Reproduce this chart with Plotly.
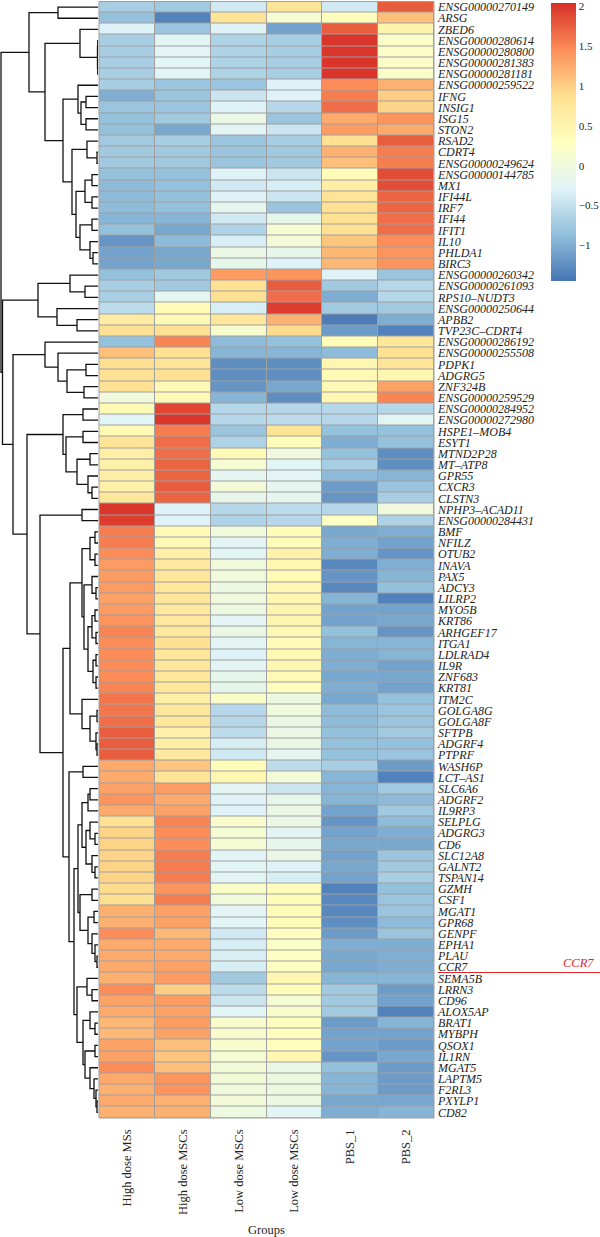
import plotly.graph_objects as go

W, H = 600, 1237

genes = ["ENSG00000270149", "ARSG", "ZBED6", "ENSG00000280614", "ENSG00000280800",
         "ENSG00000281383", "ENSG00000281181", "ENSG00000259522", "IFNG", "INSIG1",
         "ISG15", "STON2", "RSAD2", "CDRT4", "ENSG00000249624", "ENSG00000144785",
         "MX1", "IFI44L", "IRF7", "IFI44", "IFIT1", "IL10", "PHLDA1", "BIRC3",
         "ENSG00000260342", "ENSG00000261093", "RPS10–NUDT3", "ENSG00000250644", "APBB2",
         "TVP23C–CDRT4", "ENSG00000286192", "ENSG00000255508", "PDPK1", "ADGRG5",
         "ZNF324B", "ENSG00000259529", "ENSG00000284952", "ENSG00000272980", "HSPE1–MOB4",
         "ESYT1", "MTND2P28", "MT–ATP8", "GPR55", "CXCR3", "CLSTN3", "NPHP3–ACAD11",
         "ENSG00000284431", "BMF", "NFILZ", "OTUB2", "INAVA", "PAX5", "ADCY3", "LILRP2",
         "MYO5B", "KRT86", "ARHGEF17", "ITGA1", "LDLRAD4", "IL9R", "ZNF683", "KRT81",
         "ITM2C", "GOLGA8G", "GOLGA8F", "SFTPB", "ADGRF4", "PTPRF", "WASH6P", "LCT–AS1",
         "SLC6A6", "ADGRF2", "IL9RP3", "SELPLG", "ADGRG3", "CD6", "SLC12A8", "GALNT2",
         "TSPAN14", "GZMH", "CSF1", "MGAT1", "GPR68", "GENPF", "EPHA1", "PLAU", "CCR7",
         "SEMA5B", "LRRN3", "CD96", "ALOX5AP", "BRAT1", "MYBPH", "QSOX1", "IL1RN",
         "MGAT5", "LAPTM5", "F2RL3", "PXYLP1", "CD82"]

groups = ["High dose MSs", "High dose MSCs", "Low dose MSCs", "Low dose MSCs", "PBS_1", "PBS_2"]

high_ms = [-0.7, -0.85, -0.3, -0.7, -0.7, -0.7, -0.7, -0.7, -1.0, -0.8,
           -0.85, -0.85, -0.75, -0.75, -0.75, -0.85, -0.9, -0.9, -0.9, -0.95,
           -0.85, -1.2, -1.1, -1.1, -0.85, -0.7, -0.7, -0.55, 0.65, 0.85,
           -0.85, 1.1, 0.85, 0.85, 0.85, 0.0, 0.4, -0.25, 0.4, 0.8,
           0.6, 0.55, 0.6, 0.55, 0.75, 2.0, 1.95, 1.55, 1.55, 1.45,
           1.35, 1.35, 1.35, 1.3, 1.35, 1.4, 1.5, 1.45, 1.45, 1.45,
           1.45, 1.5, 1.6, 1.6, 1.65, 1.75, 1.75, 1.75, 1.25, 1.25,
           1.3, 1.4, 1.25, 0.85, 0.95, 0.95, 0.95, 0.95, 0.95, 0.9,
           0.85, 1.2, 1.2, 1.45, 1.25, 1.25, 1.25, 1.2, 1.45, 1.3,
           1.25, 1.15, 1.15, 1.3, 1.3, 1.45, 1.25, 1.2, 1.25, 1.2]
high_mscs = [-0.75, -1.35, -0.8, -0.25, -0.25, -0.25, -0.25, -0.8, -0.8, -0.8,
             -0.75, -1.05, -0.7, -0.75, -0.75, -0.85, -0.85, -0.85, -0.85, -0.95,
             -1.05, -0.9, -1.05, -1.05, -0.75, -0.75, -0.2, 0.35, 0.4, 0.85,
             1.5, 0.85, 0.8, 0.85, 0.4, 0.4, 1.9, 2.0, 1.55, 1.65,
             1.65, 1.7, 1.7, 1.75, 1.7, -0.3, -0.3, 0.4, 0.4, 0.6,
             0.7, 0.75, 0.75, 0.75, 0.7, 0.7, 0.7, 0.85, 0.75, 0.75,
             0.75, 0.75, 0.6, 0.75, 0.75, 0.55, 0.6, 0.7, 1.05, 0.8,
             1.35, 1.25, 1.3, 1.5, 1.45, 1.45, 1.55, 1.55, 1.55, 1.4,
             1.55, 1.3, 1.3, 1.15, 1.25, 1.25, 1.3, 1.35, 1.0, 1.35,
             1.3, 1.35, 1.3, 1.1, 1.05, 1.1, 1.4, 1.4, 1.2, 1.2]
low_mscs_a = [-0.4, 0.8, -0.3, -0.65, -0.65, -0.65, -0.65, -0.8, -0.45, -0.3,
              -0.1, -0.25, -0.8, -0.8, -0.8, -0.3, -0.4, -0.3, -0.2, -0.4,
              -0.65, -0.35, -0.1, -0.15, 1.35, 0.85, 0.85, -0.35, 0.75, 0.15,
              -0.9, -0.95, -1.25, -1.25, -1.2, -0.95, -0.6, -0.6, -0.8, -0.65,
              0.4, 0.1, -0.2, 0.05, -0.15, -0.6, -0.65, 0.0, -0.25, -0.25,
              0.0, 0.0, -0.05, 0.0, -0.05, -0.25, -0.1, -0.25, -0.3, -0.25,
              -0.15, -0.15, 0.2, -0.6, -0.6, -0.55, -0.35, -0.4, 0.35, 0.45,
              -0.25, -0.3, -0.3, 0.15, 0.1, 0.1, -0.25, -0.25, -0.25, 0.2,
              0.0, -0.25, -0.25, -0.4, -0.35, -0.35, -0.35, -0.75, -0.55, -0.45,
              -0.25, 0.15, 0.15, 0.15, 0.1, 0.05, 0.05, 0.0, 0.05, -0.05]
low_mscs_b = [0.8, 0.1, -1.1, -0.7, -0.7, -0.7, -0.7, -0.3, -0.3, -0.6,
              -0.8, -0.45, -0.7, -0.75, -0.75, -0.45, -0.35, -0.45, -0.8, -0.15,
              0.1, 0.05, -0.15, -0.3, 1.4, 1.75, 1.65, 1.95, 1.2, 0.9,
              -0.85, -0.95, -1.25, -1.25, -1.05, -1.25, -0.6, -0.55, 0.8, 0.35,
              0.0, -0.25, -0.25, -0.2, -0.2, -0.55, -0.6, 0.35, 0.35, 0.55,
              0.45, 0.4, 0.45, 0.45, 0.5, 0.5, 0.4, 0.35, 0.4, 0.45,
              0.4, 0.3, -0.05, 0.0, -0.1, -0.1, -0.1, -0.2, -0.55, 0.05,
              -0.45, -0.15, -0.1, -0.1, -0.25, -0.15, -0.1, -0.3, -0.35, 0.35,
              0.35, 0.35, 0.35, 0.3, 0.2, 0.25, 0.25, 0.45, 0.35, 0.1,
              0.15, 0.3, 0.3, 0.3, 0.45, -0.1, -0.05, -0.05, -0.05, -0.25]
pbs_1 = [-0.4, 0.3, 1.75, 2.0, 2.0, 2.0, 2.0, 1.45, 1.55, 1.65,
         1.25, 1.35, 0.85, 1.2, 1.1, 0.35, 0.6, 0.8, 0.85, 0.85,
         0.85, 1.05, 1.15, 1.15, -0.3, -0.75, -1.0, -0.75, -1.4, -1.15,
         0.35, -0.9, 0.45, 0.4, 0.4, 0.45, -0.6, -0.6, -0.85, -1.0,
         -0.85, -0.7, -0.9, -1.15, -1.2, -0.6, 0.25, -1.05, -1.0, -1.0,
         -1.3, -1.2, -1.3, -0.95, -1.1, -1.1, -0.85, -0.95, -1.0, -1.0,
         -1.05, -1.0, -1.05, -0.9, -0.9, -0.85, -0.85, -0.85, -0.7, -0.95,
         -0.95, -0.95, -1.1, -1.2, -1.1, -1.05, -1.1, -1.05, -1.1, -1.35,
         -1.3, -1.3, -1.25, -1.15, -1.0, -1.05, -1.05, -0.95, -0.75, -0.75,
         -0.75, -1.15, -1.1, -1.1, -1.2, -0.85, -0.95, -0.95, -1.05, -1.0]
pbs_2 = [1.75, 1.1, 0.5, 0.2, 0.2, 0.2, 0.2, 1.2, 1.0, 0.95,
         1.4, 1.25, 1.75, 1.55, 1.55, 1.85, 1.85, 1.7, 1.7, 1.65,
         1.65, 1.45, 1.4, 1.4, -0.8, -0.6, -0.6, -0.75, -1.0, -1.35,
         0.75, 0.85, 0.8, 0.45, 1.3, 1.5, -0.6, -0.25, -0.85, -0.85,
         -1.25, -1.25, -0.95, -0.8, -0.7, 0.0, -0.65, -1.0, -1.1, -1.2,
         -1.0, -0.95, -0.85, -1.35, -1.1, -1.05, -1.2, -0.95, -0.95, -1.1,
         -1.05, -1.1, -0.85, -0.8, -0.8, -0.75, -0.85, -0.8, -1.15, -1.35,
         -0.75, -0.9, -0.75, -0.9, -1.0, -1.05, -0.8, -0.75, -0.7, -0.85,
         -0.8, -0.8, -0.9, -0.8, -1.0, -1.0, -1.0, -0.95, -1.15, -1.1,
         -1.35, -0.95, -1.1, -1.15, -1.05, -1.15, -1.15, -1.15, -1.05, -0.95]

# row dendrogram: [merge height, left, right]; leaves are 1-based row numbers
row_tree = [97,
    [69,
        [40, 1, 2],
        [53,
            [18, 3, [0.5, [0.3, 4, 5], [0.3, 6, 7]]],
            [35,
                [20, 8, [17, [12, 9, 10], [12, 11, 12]]],
                [26,
                    [11, 13, [1, 14, 15]],
                    [22,
                        [13, [6, 16, 17], [6, 18, 19]],
                        [18, [6, 20, 21], [8, 22, [5, 23, 24]]]]]]]],
    [95.5,
        [60,
            [28, 25, [13, 26, 27]],
            [41, 28, [21, 29, 30]]],
        [85,
            [53, 31, [40, 32, [31, [12, 33, 34], [14, 35, 36]]]],
            [71,
                [35, [15, 37, 38],
                    [32, [15, 39, 40],
                        [21, [8, 41, 42], [10, 43, [6, 44, 45]]]]],
                [58,
                    [16, 46, 47],
                    [35,
                        [28,
                            [16,
                                [8, [3, 48, 49], [3, 50, 51]],
                                [14,
                                    [6, 52, [2, 53, 54]],
                                    [10,
                                        [6, [3, 55, 56], [2, 57, 58]],
                                        [5, [2, 59, 60], [2, 61, 62]]]]],
                            [16, 63, [8, [1, 64, 65], [2, 66, [1, 67, 68]]]]],
                        [29,
                            [15, 69, 70],
                            [24,
                                [20,
                                    [16,
                                        [10, [8, 71, 72], 73],
                                        [12, [8, 74, [3, 75, 76]], [6, 77, [3, 78, 79]]]],
                                    [18,
                                        [6, 80, 81],
                                        [10, [4, 82, 83], [6, 84, [3, 85, [1, 86, 87]]]]]],
                                [21,
                                    [11, 88, [6, 89, 90]],
                                    [15,
                                        [8, 91, [3, 92, 93]],
                                        [13, [3, 94, 95],
                                            [8, 96, [4, 97, [2, 98, [1, 99, 100]]]]]]]]]]]]]]]

palette = ["#4575B4", "#91BFDB", "#E0F3F8", "#FFFFBF", "#FEE090", "#FC8D59", "#D73027"]
zmin, zmax = -1.45, 2.03
cbar_ticks = [-1, -0.5, 0, 0.5, 1, 1.5, 2]
cbar_labels = ["−1", "−0.5", "0", "0.5", "1", "1.5", "2"]

FONT = "Liberation Serif"
n_rows = len(genes)

# ---- dendrogram segments from the tree ----
dx, dy = [], []


def walk(node):
    if isinstance(node, int):
        return node - 1, 0.0
    h, a, b = node
    ya, ha = walk(a)
    yb, hb = walk(b)
    dx.extend([ha, h, h, hb, None])
    dy.extend([ya, ya, yb, yb, None])
    return (ya + yb) / 2, h


walk(row_tree)

z = [list(r) for r in zip(high_ms, high_mscs, low_mscs_a, low_mscs_b, pbs_1, pbs_2)]

y_top = 1 - 1.5 / H
y_bot = 1 - 1118 / H
hx0, hx1 = 99 / W, 434 / W

fig = go.Figure()
fig.add_trace(go.Scatter(x=dx, y=dy, mode="lines", xaxis="x", yaxis="y",
                         line=dict(color="#111111", width=1.3), hoverinfo="skip",
                         showlegend=False))

cs = [[i / (len(palette) - 1), c] for i, c in enumerate(palette)]
fig.add_trace(go.Heatmap(
    z=z, x=list(range(len(groups))), y=list(range(n_rows)), xaxis="x2", yaxis="y2",
    colorscale=cs, zmin=zmin, zmax=zmax, xgap=1, ygap=1,
    colorbar=dict(thickness=25, lenmode="pixels", len=278, x=551 / W, xanchor="left",
                  y=1 - 3.5 / H, yanchor="top", xpad=0, ypad=0, outlinewidth=0,
                  tickmode="array", tickvals=cbar_ticks, ticktext=cbar_labels,
                  ticks="", ticklabelposition="outside", ticklabeloverflow="allow",
                  tickfont=dict(family=FONT, size=11, color="#222222")),
))

fig.update_layout(
    width=W, height=H, margin=dict(l=0, r=0, t=0, b=0),
    paper_bgcolor="white", plot_bgcolor="white", template="none",
    xaxis=dict(domain=[0, 98 / W], range=[98, 0], visible=False, fixedrange=True),
    yaxis=dict(domain=[y_bot, y_top], range=[n_rows - 0.5, -0.5], visible=False),
    xaxis2=dict(domain=[hx0, hx1], range=[-0.5, len(groups) - 0.5], anchor="y2",
                tickvals=list(range(len(groups))), ticktext=groups, tickangle=-90,
                ticks="", showgrid=False, zeroline=False, showline=False, automargin=False,
                ticklabelstandoff=8,
                tickfont=dict(family=FONT, size=12.5, color="#222222")),
    yaxis2=dict(domain=[y_bot, y_top], range=[n_rows - 0.5, -0.5], anchor="x2", side="right",
                tickvals=list(range(n_rows)), ticktext=["<i>%s</i>" % g for g in genes],
                ticks="", showgrid=False, zeroline=False, showline=False, automargin=False,
                ticklabelstandoff=3,
                tickfont=dict(family=FONT, size=12, color="#222222")),
    showlegend=False,
)

# grey cell borders
fig.add_shape(type="rect", xref="x2 domain", yref="y2 domain", x0=0, x1=1, y0=0, y1=1,
              fillcolor="#a0a0a0", line=dict(width=0), layer="below")
fig.add_shape(type="rect", xref="x2 domain", yref="y2 domain", x0=0, x1=1, y0=0, y1=1,
              fillcolor="rgba(0,0,0,0)", line=dict(width=1, color="#a0a0a0"), layer="above")

# highlight CCR7
ccr7 = genes.index("CCR7")
fig.add_shape(type="line", xref="paper", yref="y2", x0=438 / W, x1=1.0,
              y0=ccr7 + 0.47, y1=ccr7 + 0.47, line=dict(color="#e3262b", width=1.2))
fig.add_annotation(xref="paper", yref="y2", x=596 / W, xanchor="right", y=ccr7 + 0.45,
                   yanchor="bottom", text="<i>CCR7</i>", showarrow=False,
                   font=dict(family=FONT, size=12.5, color="#e3262b"))

fig.add_annotation(xref="paper", yref="paper", x=(hx0 + hx1) / 2, y=1 - 1230 / H,
                   yanchor="middle", text="Groups", showarrow=False,
                   font=dict(family=FONT, size=12.5, color="#222222"))

fig.write_html("out.html")
